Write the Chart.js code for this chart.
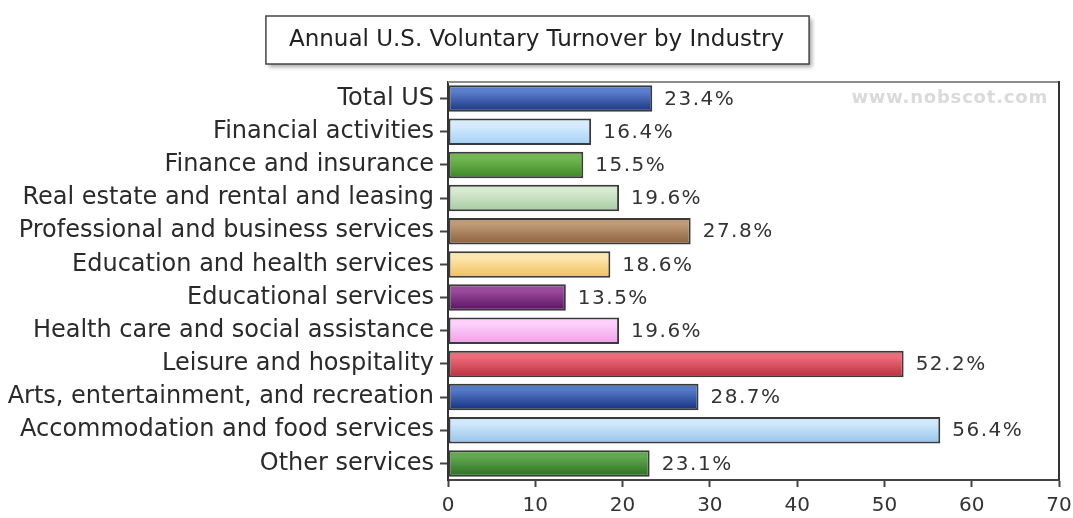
<!DOCTYPE html>
<html>
<head>
<meta charset="utf-8">
<title>Annual U.S. Voluntary Turnover by Industry</title>
<script src="https://cdn.jsdelivr.net/npm/chart.js@4.4.1/dist/chart.umd.min.js"></script>
<style>
    html, body { margin: 0; padding: 0; background: #fff; }
    #wrap { width: 1073px; height: 518px; }
</style>
</head>
<body>
<div id="wrap"><canvas id="turnoverChart" width="1073" height="518"></canvas></div>
<script>
// Data
const industries = [
    'Total US',
    'Financial activities',
    'Finance and insurance',
    'Real estate and rental and leasing',
    'Professional and business services',
    'Education and health services',
    'Educational services',
    'Health care and social assistance',
    'Leisure and hospitality',
    'Arts, entertainment, and recreation',
    'Accommodation and food services',
    'Other services'
];
const turnover = [23.4, 16.4, 15.5, 19.6, 27.8, 18.6, 13.5, 19.6, 52.2, 28.7, 56.4, 23.1];
const xTicks = [0, 10, 20, 30, 40, 50, 60, 70];

// bar colours, light top -> dark bottom
const barTop = ['#5a7dcc', '#d6ecfd', '#72b852', '#d6ead0', '#bf9a78', '#fde6ad', '#9a4a9a', '#fdd0fa', '#ec6c7a', '#5579c6', '#d0e8fb', '#62a850'];
const barBottom = ['#18347f', '#a2d0f6', '#3a8626', '#a6caa0', '#8a5f3c', '#f0be5c', '#581060', '#ee9ee6', '#bc2c3c', '#132f80', '#94c2ea', '#2a6e20'];

const FONT = "'DejaVu Sans', Verdana, sans-serif";

function barGradient(context) {
    const chart = context.chart;
    const i = context.dataIndex;
    const y = chart.scales.y;
    if (!chart.chartArea || !y) return barBottom[i];
    const mid = y.getPixelForValue(i);
    const half = Math.abs(y.getPixelForValue(1) - y.getPixelForValue(0)) * 0.4;
    const g = chart.ctx.createLinearGradient(0, mid - half, 0, mid + half);
    g.addColorStop(0, barTop[i]);
    g.addColorStop(0.25, barTop[i]);
    g.addColorStop(1, barBottom[i]);
    return g;
}

// box with shadow behind the title
const titleBox = {
    id: 'titleBox',
    beforeDraw(chart) {
        const ctx = chart.ctx;
        const tb = chart.titleBlock;
        if (!tb) return;
        ctx.save();
        ctx.font = '23px ' + FONT;
        const w = ctx.measureText(chart.options.plugins.title.text).width;
        const cx = (tb.left + tb.right) / 2;
        const cy = tb.top + 26 + 14;
        const left = cx - w / 2 - 23, top = cy - 24;
        ctx.shadowColor = 'rgba(0,0,0,0.35)';
        ctx.shadowBlur = 4;
        ctx.shadowOffsetX = 3;
        ctx.shadowOffsetY = 3;
        ctx.fillStyle = '#fff';
        ctx.fillRect(left, top, w + 48, 48);
        ctx.shadowColor = 'transparent';
        ctx.strokeStyle = '#444';
        ctx.lineWidth = 1.5;
        ctx.strokeRect(left, top, w + 48, 48);
        ctx.restore();
    }
};

// top/right frame of the plot, value labels and watermark
const extras = {
    id: 'extras',
    afterDatasetsDraw(chart) {
        const ctx = chart.ctx;
        const a = chart.chartArea;
        ctx.save();
        ctx.lineWidth = 2;
        ctx.strokeStyle = '#8c8c8c';
        ctx.beginPath();
        ctx.moveTo(a.left, a.top);
        ctx.lineTo(a.right, a.top);
        ctx.stroke();
        ctx.strokeStyle = '#333';
        ctx.beginPath();
        ctx.moveTo(a.right, a.top - 1);
        ctx.lineTo(a.right, a.bottom);
        ctx.stroke();

        ctx.font = '20px ' + FONT;
        ctx.fillStyle = '#333';
        ctx.textBaseline = 'middle';
        ctx.textAlign = 'left';
        ctx.letterSpacing = '1.5px';
        chart.getDatasetMeta(0).data.forEach(function(bar, i) {
            ctx.fillText(turnover[i].toFixed(1) + '%', bar.x + 12, bar.y + 1);
        });

        ctx.letterSpacing = '0.8px';
        ctx.font = 'bold 18px ' + FONT;
        ctx.fillStyle = '#dadada';
        ctx.textAlign = 'right';
        ctx.fillText('www.nobscot.com', a.right - 11, a.top + 16);
        ctx.restore();
    }
};

const ctx = document.getElementById('turnoverChart').getContext('2d');
const turnoverChart = new Chart(ctx, {
    type: 'bar',
    data: {
        labels: industries,
        datasets: [{
            data: turnover,
            backgroundColor: barGradient,
            borderColor: '#3a3a3a',
            borderWidth: 2,
            borderSkipped: false,
            barPercentage: 0.8,
            categoryPercentage: 1.0
        }]
    },
    options: {
        indexAxis: 'y',
        responsive: false,
        devicePixelRatio: 1,
        animation: false,
        layout: { padding: 0 },
        plugins: {
            legend: { display: false },
            tooltip: { enabled: false },
            title: {
                display: true,
                text: 'Annual U.S. Voluntary Turnover by Industry',
                color: '#222',
                font: { family: FONT, size: 23, weight: 'normal' },
                padding: { top: 26, bottom: 28.4 }
            }
        },
        scales: {
            x: {
                min: xTicks[0],
                max: xTicks[xTicks.length - 1],
                ticks: {
                    stepSize: xTicks[1] - xTicks[0],
                    color: '#333',
                    font: { family: FONT, size: 20 },
                    padding: 7
                },
                grid: {
                    drawOnChartArea: false,
                    tickLength: 7,
                    tickColor: '#444',
                    tickWidth: 2
                },
                border: { color: '#444', width: 2 },
                afterFit: function(scale) {
                    scale.height = 38;
                    scale.paddingRight = 14;
                    scale.paddingLeft = 0;
                }
            },
            y: {
                ticks: {
                    color: '#2a2a2a',
                    font: { family: FONT, size: 24 },
                    padding: 6
                },
                grid: {
                    offset: false,
                    drawOnChartArea: false,
                    tickLength: 8,
                    tickColor: '#444',
                    tickWidth: 2
                },
                border: { color: '#333', width: 2 },
                afterFit: function(scale) { scale.width = 448; }
            }
        }
    },
    plugins: [titleBox, extras]
});
</script>
</body>
</html>
